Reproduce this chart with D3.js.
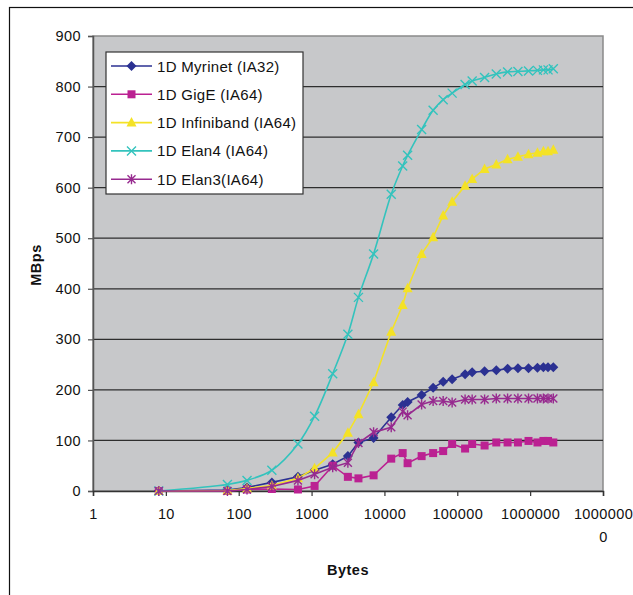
<!DOCTYPE html>
<html>
<head>
<meta charset="utf-8">
<script src="https://cdn.jsdelivr.net/npm/d3@7"></script>
<style>
  html, body { margin: 0; padding: 0; background: #fff; }
  svg { display: block; }
  text { font-family: "Liberation Sans", Arial, sans-serif; fill: #111; }
</style>
</head>
<body>
<svg id="chart" width="633" height="595"></svg>
<script>
// Message sizes (bytes) at which bandwidth was sampled
const bytes = [8, 70, 130, 285, 650, 1100, 1950, 3150, 4400, 7100, 12400, 17800, 20800,
  32400, 46600, 64000, 85000, 128000, 160000, 237000, 343000, 490000, 680000, 950000,
  1260000, 1520000, 1760000, 2080000];

// Bandwidth in MBps for each interconnect
const myrinet = [0, 2, 7, 17, 28, 41, 53, 69, 96, 105, 146, 170, 176,
  190, 204, 216, 221, 231, 235, 237, 239, 242, 243, 243, 244, 245, 245, 245];
const gige = [0, 0, 3, 4, 3, 10, 50, 28, 25, 31, 64, 75, 55,
  69, 75, 79, 93, 84, 93, 90, 96, 96, 96, 99, 96, 99, 99, 96];
const infiniband = [0, 1, 5, 11, 25, 45, 76, 115, 152, 215, 315, 368, 401,
  469, 502, 545, 572, 604, 617, 637, 646, 656, 661, 666, 669, 672, 672, 675];
const elan4 = [0, 13, 21, 41, 93, 148, 232, 310, 383, 469, 587, 643, 664,
  715, 753, 774, 787, 804, 811, 818, 825, 829, 830, 831, 832, 833, 833, 835];
const elan3 = [0, 0, 3, 9, 21, 33, 47, 56, 95, 116, 126, 157, 150,
  171, 178, 178, 175, 181, 181, 181, 183, 183, 183, 183, 183, 183, 183, 183];

const seriesNames = ["1D Myrinet (IA32)", "1D GigE (IA64)", "1D Infiniband (IA64)", "1D Elan4 (IA64)", "1D Elan3(IA64)"];
const yTicks = [0, 100, 200, 300, 400, 500, 600, 700, 800, 900];
const xTicks = [1, 10, 100, 1000, 10000, 100000, 1000000, 10000000];
const xTitle = "Bytes";
const yTitle = "MBps";

const series = [
  { name: seriesNames[0], values: myrinet, color: "#2b3192", marker: "diamond", smooth: false },
  { name: seriesNames[1], values: gige, color: "#bb2192", marker: "square", smooth: false },
  { name: seriesNames[2], values: infiniband, color: "#f4e226", marker: "triangle", smooth: false },
  { name: seriesNames[3], values: elan4, color: "#33c3bd", marker: "cross", smooth: true },
  { name: seriesNames[4], values: elan3, color: "#972a8f", marker: "star", smooth: false }
];

const FONT = "'Liberation Sans', Arial, sans-serif";
const svg = d3.select("#chart");
const plot = { left: 93, right: 603, top: 36, bottom: 491 };

// Outer chart frame
svg.append("rect").attr("x", 9.5).attr("y", 7.5).attr("width", 640).attr("height", 600)
  .attr("fill", "none").attr("stroke", "#111").attr("stroke-width", 1.2);

const x = d3.scaleLog().domain([1, 10000000]).range([plot.left, plot.right]);
const y = d3.scaleLinear().domain([0, 900]).range([plot.bottom, plot.top]);

// Plot area background
svg.append("rect").attr("x", plot.left).attr("y", plot.top)
  .attr("width", plot.right - plot.left).attr("height", plot.bottom - plot.top)
  .attr("fill", "#c7c8ca").attr("stroke", "#8a8a8a").attr("stroke-width", 1.5);

// Horizontal gridlines
svg.append("g").selectAll("line").data(yTicks.filter(d => d > 0 && d < 900)).join("line")
  .attr("x1", plot.left).attr("x2", plot.right)
  .attr("y1", d => y(d)).attr("y2", d => y(d))
  .attr("stroke", "#2e2e2e").attr("stroke-width", 1.3);

// Y axis
const yAxis = svg.append("g").attr("transform", `translate(${plot.left},0)`)
  .call(d3.axisLeft(y).tickValues(yTicks).tickSize(5).tickPadding(7).tickFormat(d3.format("d")));
yAxis.select(".domain").attr("stroke", "#555").attr("stroke-width", 1.5);
yAxis.selectAll(".tick line").attr("stroke", "#555").attr("stroke-width", 1.2);
yAxis.selectAll("text").attr("font-size", 14.5).attr("letter-spacing", 0.4).attr("fill", "#111")
  .attr("font-family", FONT);

// X axis
const xAxis = svg.append("g").attr("transform", `translate(0,${plot.bottom})`)
  .call(d3.axisBottom(x).tickValues(xTicks).tickSize(5).tickPadding(14).tickFormat(d => ""));
xAxis.select(".domain").attr("stroke", "#333").attr("stroke-width", 1.5);
xAxis.selectAll(".tick line").attr("stroke", "#333").attr("stroke-width", 1.2);
xAxis.selectAll(".tick").each(function (d) {
  const label = String(d);
  const t = d3.select(this).select("text")
    .attr("font-size", 14.5).attr("letter-spacing", 0.4).attr("fill", "#111").attr("dy", 0).attr("y", 28)
    .attr("font-family", FONT);
  if (label.length > 7) {
    t.append("tspan").attr("x", 0).attr("y", 28).text(label.slice(0, 7));
    t.append("tspan").attr("x", 0).attr("y", 51).text(label.slice(7));
  } else {
    t.text(label);
  }
});

// Axis titles
svg.append("text").attr("x", 348).attr("y", 575).attr("text-anchor", "middle")
  .attr("font-size", 14.5).attr("letter-spacing", 0.5).attr("font-weight", "bold").text(xTitle);
svg.append("text").attr("transform", "translate(41,265) rotate(-90)").attr("text-anchor", "middle")
  .attr("font-size", 14.5).attr("letter-spacing", 0.5).attr("font-weight", "bold").text(yTitle);

// Marker drawing
function drawMarker(sel, type, color) {
  if (type === "diamond") {
    sel.append("path").attr("d", "M0,-5L5,0L0,5L-5,0Z").attr("fill", color);
  } else if (type === "square") {
    sel.append("rect").attr("x", -4).attr("y", -4).attr("width", 8).attr("height", 8).attr("fill", color);
  } else if (type === "triangle") {
    sel.append("path").attr("d", "M0,-5.5L5,4L-5,4Z").attr("fill", color);
  } else if (type === "cross") {
    sel.append("path").attr("d", "M-4.5,-4.5L4.5,4.5M-4.5,4.5L4.5,-4.5")
      .attr("stroke", color).attr("stroke-width", 1.4).attr("fill", "none");
  } else if (type === "star") {
    sel.append("path").attr("d", "M-4,-4L4,4M-4,4L4,-4M0,-5L0,5")
      .attr("stroke", color).attr("stroke-width", 1.4).attr("fill", "none");
  }
}

// Series lines and markers
const gSeries = svg.append("g");
series.forEach(s => {
  const pts = bytes.map((b, i) => [b, s.values[i]]);
  const line = d3.line().x(d => x(d[0])).y(d => y(d[1]))
    .curve(s.smooth ? d3.curveCatmullRom.alpha(0.5) : d3.curveLinear);
  gSeries.append("path").datum(pts).attr("d", line)
    .attr("fill", "none").attr("stroke", s.color).attr("stroke-width", 1.6);
  gSeries.append("g").selectAll("g").data(pts).join("g")
    .attr("transform", d => `translate(${x(d[0])},${y(d[1])})`)
    .each(function () { drawMarker(d3.select(this), s.marker, s.color); });
});

// Legend
const legend = svg.append("g");
legend.append("rect").attr("x", 106).attr("y", 52).attr("width", 197).attr("height", 142)
  .attr("fill", "#fff").attr("stroke", "#333").attr("stroke-width", 1.2);
series.forEach((s, i) => {
  const cy = 66 + i * 28.3;
  const g = legend.append("g");
  g.append("line").attr("x1", 111).attr("x2", 152).attr("y1", cy).attr("y2", cy)
    .attr("stroke", s.color).attr("stroke-width", 1.6);
  const m = g.append("g").attr("transform", `translate(131.5,${cy})`);
  drawMarker(m, s.marker, s.color);
  g.append("text").attr("x", 157).attr("y", cy + 5.5).attr("font-size", 15)
    .attr("letter-spacing", 0.3).text(s.name);
});
</script>
</body>
</html>
